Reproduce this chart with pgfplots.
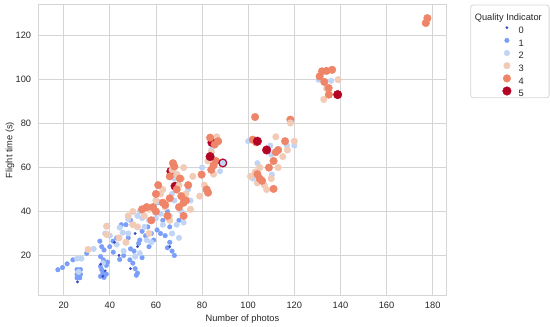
\documentclass[border=0pt]{standalone}
\usepackage{fontspec}
\setmainfont{Liberation Sans}
\usepackage{pgfplots}
\pgfplotsset{compat=1.18}
\definecolor{c0}{HTML}{3B4CC0}
\definecolor{c1}{HTML}{7B9FF9}
\definecolor{c2}{HTML}{C0D4F5}
\definecolor{c3}{HTML}{F2CBB7}
\definecolor{c4}{HTML}{EE8468}
\definecolor{c5}{HTML}{B40426}
\definecolor{gridc}{HTML}{D5D5D5}
\definecolor{txt}{HTML}{262626}
\pgfplotsset{
 qbase/.style={only marks, mark=*, mark options={solid, draw=white, line width=0.45bp}},
 q0/.style={qbase, color=c0, mark size=1.2bp, mark options={fill=c0}},
 q1/.style={qbase, color=c1, mark size=2.3bp, mark options={fill=c1}},
 q2/.style={qbase, color=c2, mark size=2.8bp, mark options={fill=c2}},
 q3/.style={qbase, color=c3, mark size=3.3bp, mark options={fill=c3}},
 q4/.style={qbase, color=c4, mark size=3.8bp, mark options={fill=c4}},
 q5/.style={qbase, color=c5, mark size=4.3bp, mark options={fill=c5}},
}
\newcommand{\ft}{\fontsize{9.3}{11}\selectfont}
\begin{document}
\ft
\begin{tikzpicture}
\begin{axis}[
 scale only axis, width=408.2bp, height=290bp,
 xmin=9, xmax=186, ymin=2, ymax=134,
 xtick={20,40,...,180}, ytick={20,40,...,120},
 grid=major, major grid style={draw=gridc, line width=0.8bp},
 axis line style={draw=gridc, line width=1bp},
 major tick length=0pt,
 tick label style={font=\ft, text=txt},
 /pgf/number format/assume math mode=true,
 xticklabel style={anchor=north, inner sep=0pt, yshift=-7bp},
 yticklabel style={anchor=east, inner sep=0pt, xshift=-7bp},
 xlabel={Number of photos}, ylabel={Flight time (s)},
 every axis x label/.style={at={(axis description cs:0.5,-0.0897)}, anchor=base, font=\ft, text=txt},
 every axis y label/.style={at={(axis description cs:-0.0632,0.5)}, rotate=90, anchor=base, font=\ft, text=txt},
 clip=false,
 legend style={at={(rel axis cs:1.1328,0.941)}, anchor=north west, draw=none, fill=none, inner sep=0pt, row sep=0pt, column sep=5.8bp, nodes={inner sep=0pt, font=\ft, text=txt}},
 legend cell align=left,
 legend image code/.code={\path[draw=none, fill=none] (0bp,-2.05bp) rectangle (12bp,8.75bp); \draw[mark repeat=2,mark phase=2,#1] plot coordinates {(0bp,3.35bp)(6bp,3.35bp)(12bp,3.35bp)};},
]
\path (rel axis cs:-0.0938,-0.1103) rectangle (rel axis cs:1.2535,1.0172);
% level 5 (partly covered)
\addplot[q5, forget plot] table {
66.5 58.3
68.3 51.5
84.3 71.4
};
% level 1
\addplot[q1, forget plot] table {
17.5 13.5
19.5 14.5
21.5 16.2
24 18
25.8 13.6
27.3 13.6
25.8 11.4
27.3 11.4
25.8 9.8
27 9.8
30 21
35.7 26.5
36.5 24
37.5 22.5
36 19.5
37.2 18
36 15
38.5 15.5
36.5 13.5
37 12
38.5 11.5
36 10.5
37.5 10
39 17
41.4 26.5
43 28
44.3 18.2
46 20
48.7 18
50 16.5
51 14
52 12
51.5 11
49 23
50.5 22
52.5 25.5
53 27
48 28
54 31
55.5 29
56.5 33
47 34
49 36
40 24
41.5 21.5
58 30
59 27
61 44
63 36
65 40
66 26
67 22
65 23.5
68 20
64 29
66 33
70 36
57 24
60.5 31.6
62 30
54 19
45 34
};
% level 2
\addplot[q2, forget plot] table {
25.8 18.6
27.7 18.6
38 30
39 33.5
44.3 32.7
45.6 30.4
48 36.5
52 38
54 37
55 33
40 29
53 21
46 22
56 27
60 37
61 44.5
63 34
66 38
68 45
69 34
67 30
70 28
71 40
75 45
68 55
87.8 58.3
109.6 70
110.3 56.8
116.8 70
104 62
120 70
130.5 100
136 99.5
100 72
80 60
84 68
102 55
110 66
53 40
74 50
58 26
48 30
62 39
57 36
43 25
33 23
67 48
72 35
37 16.5
26.5 12.5
51 19.5
};
% level 3
\addplot[q3, forget plot] table {
30.6 22.7
38.6 33.3
38.8 29.5
47 26
50 34
55 38
57 41
62 48
63 50
67 59
69 57
72 60
73 48
70 52
79 47
81 52
82.6 63
85 57
84 67
86.4 74
101 56
104 53
107 52
112 74
113 60
115 65
117 68
132.8 91
139 100
134 96
120 72
50 40
57 30
64 42
75 41
66 36
48 38
110 55
108 50
44 28
60 45
52 33
71 55
76 56
103 58
105 60
};
% level 4
\addplot[q4, forget plot] table {
54 41
56 42
58.7 42
60 40
64 43
65 38
67.4 62
68 60.5
66 56
70.4 55
71 47
72 44
70 42
72 38
66 46
74 52
79.8 56.8
82 50
82.6 48.6
83.5 73.6
87 72
85.5 70.5
86 63
84 59
85 61
103 83
118.3 81.8
102 72.7
103.5 71.5
112 67
111 63
109 60
104 57
105 55
106 54
111 50.3
113 68
116 72
132 103.8
134 104
136.4 104.5
131 101.5
134.9 96.2
135 93.2
133 99
177 125.8
177.7 128
60 48
61 52
63 44
58 36
69 50
73 45
};
\addplot[q3, forget plot] table {
118.3 80.3
};
% level 0
\addplot[q0, forget plot] table {
26 8
37 10.5
38 13
42 26
44 20
51 30
52 24
49 14
36 16
66 24
};
% level 5 (on top)
\addplot[q5, forget plot] table {
83.5 65
89 62.1
104 72
108 68
138.8 93.2
};
\addplot[q2, forget plot] table {
89 62.1
};
\addlegendimage{q0}\addlegendentry{0}
\addlegendimage{q1}\addlegendentry{1}
\addlegendimage{q2}\addlegendentry{2}
\addlegendimage{q3}\addlegendentry{3}
\addlegendimage{q4}\addlegendentry{4}
\addlegendimage{q5}\addlegendentry{5}
\node[anchor=base, font=\ft, text=txt] at (rel axis cs:1.1514,0.9481) {Quality Indicator};
\draw[draw=gridc, line width=0.8bp, rounded corners=2.5bp] (rel axis cs:1.0593,0.6803) rectangle (rel axis cs:1.2513,1.0);
\end{axis}
\end{tikzpicture}
\end{document}
